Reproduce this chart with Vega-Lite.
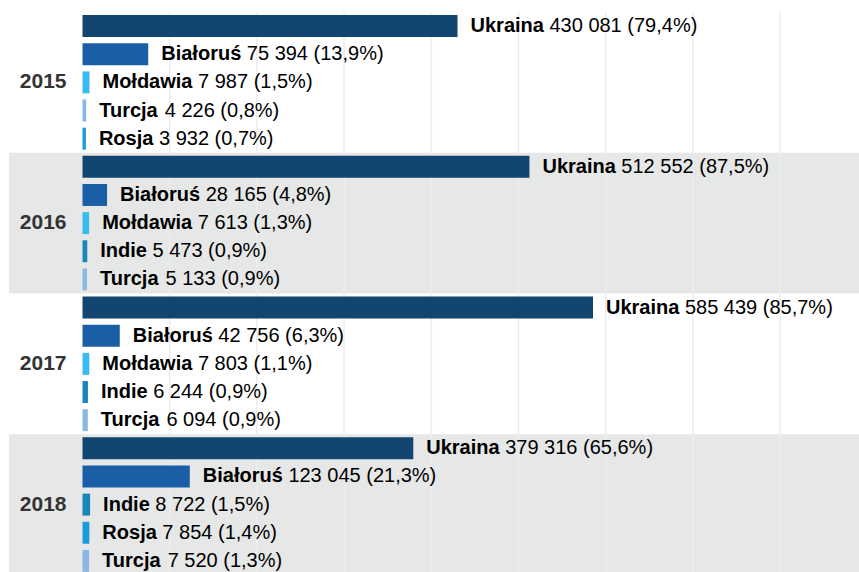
{
  "$schema": "https://vega.github.io/schema/vega-lite/v6.json",
  "width": 850,
  "height": 560,
  "autosize": {"type": "none"},
  "padding": {"left": 9, "top": 12, "right": 0, "bottom": 0},
  "background": "white",
  "config": {
    "view": {"stroke": null},
    "font": "Liberation Sans",
    "axisX": {"grid": false, "labels": false, "ticks": false, "domain": false, "title": null}
  },
  "datasets": {
    "migrants": [
      {"year": "2015", "rank": 1, "country": "Ukraina", "value": 430081, "label": "430 081 (79,4%)"},
      {"year": "2015", "rank": 2, "country": "Białoruś", "value": 75394, "label": "75 394 (13,9%)"},
      {"year": "2015", "rank": 3, "country": "Mołdawia", "value": 7987, "label": "7 987 (1,5%)"},
      {"year": "2015", "rank": 4, "country": "Turcja", "value": 4226, "label": "4 226 (0,8%)"},
      {"year": "2015", "rank": 5, "country": "Rosja", "value": 3932, "label": "3 932 (0,7%)"},
      {"year": "2016", "rank": 1, "country": "Ukraina", "value": 512552, "label": "512 552 (87,5%)"},
      {"year": "2016", "rank": 2, "country": "Białoruś", "value": 28165, "label": "28 165 (4,8%)"},
      {"year": "2016", "rank": 3, "country": "Mołdawia", "value": 7613, "label": "7 613 (1,3%)"},
      {"year": "2016", "rank": 4, "country": "Indie", "value": 5473, "label": "5 473 (0,9%)"},
      {"year": "2016", "rank": 5, "country": "Turcja", "value": 5133, "label": "5 133 (0,9%)"},
      {"year": "2017", "rank": 1, "country": "Ukraina", "value": 585439, "label": "585 439 (85,7%)"},
      {"year": "2017", "rank": 2, "country": "Białoruś", "value": 42756, "label": "42 756 (6,3%)"},
      {"year": "2017", "rank": 3, "country": "Mołdawia", "value": 7803, "label": "7 803 (1,1%)"},
      {"year": "2017", "rank": 4, "country": "Indie", "value": 6244, "label": "6 244 (0,9%)"},
      {"year": "2017", "rank": 5, "country": "Turcja", "value": 6094, "label": "6 094 (0,9%)"},
      {"year": "2018", "rank": 1, "country": "Ukraina", "value": 379316, "label": "379 316 (65,6%)"},
      {"year": "2018", "rank": 2, "country": "Białoruś", "value": 123045, "label": "123 045 (21,3%)"},
      {"year": "2018", "rank": 3, "country": "Indie", "value": 8722, "label": "8 722 (1,5%)"},
      {"year": "2018", "rank": 4, "country": "Rosja", "value": 7854, "label": "7 854 (1,4%)"},
      {"year": "2018", "rank": 5, "country": "Turcja", "value": 7520, "label": "7 520 (1,3%)"}
    ],
    "gridlines": [
      {"tick": 100000}, {"tick": 200000}, {"tick": 300000}, {"tick": 400000},
      {"tick": 500000}, {"tick": 600000}, {"tick": 700000}, {"tick": 800000}
    ]
  },
  "layer": [
    {
      "data": {"name": "migrants"},
      "transform": [{"filter": "datum.rank == 1 && (datum.year == '2016' || datum.year == '2018')"}],
      "mark": {"type": "rect", "fill": "#e6e7e7"},
      "encoding": {
        "y": {
          "field": "year",
          "type": "nominal",
          "scale": {"domain": ["2015", "2016", "2017", "2018"], "range": [0, 563], "paddingInner": 0, "paddingOuter": 0},
          "axis": {
            "title": null,
            "domain": false,
            "ticks": false,
            "tickSize": 0,
            "grid": false,
            "labelFontSize": 21,
            "labelFontWeight": "bold",
            "labelColor": "#333333",
            "labelAlign": "right",
            "labelBaseline": "middle",
            "labelPadding": -57,
            "zindex": 3
          }
        }
      }
    },
    {
      "data": {"name": "gridlines"},
      "mark": {"type": "rule", "color": "#ececec", "strokeWidth": 1.5},
      "encoding": {
        "x": {"field": "tick", "type": "quantitative", "scale": {"domain": [-84290, 890480], "nice": false, "zero": false}}
      }
    },
    {
      "data": {"name": "migrants"},
      "mark": {"type": "bar"},
      "encoding": {
        "y": {"field": "year", "type": "nominal"},
        "x": {"field": "value", "type": "quantitative"},
        "yOffset": {"field": "rank", "type": "ordinal", "scale": {"paddingInner": 0.22, "paddingOuter": 0.11}},
        "color": {
          "field": "country",
          "type": "nominal",
          "scale": {
            "domain": ["Ukraina", "Białoruś", "Mołdawia", "Turcja", "Rosja", "Indie"],
            "range": ["#124570", "#1a5fa5", "#38bbee", "#8ab8e4", "#1b9bda", "#1a86ba"]
          },
          "legend": null
        }
      }
    },
    {
      "data": {"name": "migrants"},
      "mark": {"type": "text", "align": "left", "baseline": "middle", "dx": 13, "fontSize": 20, "fontWeight": "bold", "fill": "#000000"},
      "encoding": {
        "y": {"field": "year", "type": "nominal"},
        "x": {"field": "value", "type": "quantitative"},
        "yOffset": {"field": "rank", "type": "ordinal"},
        "text": {"field": "country"}
      }
    },
    {
      "data": {"name": "migrants"},
      "transform": [
        {"calculate": "datum.country == 'Ukraina' ? 73.36 : datum.country == 'Białoruś' ? 80.02 : datum.country == 'Mołdawia' ? 90.02 : datum.country == 'Turcja' ? 60.02 : datum.country == 'Rosja' ? 54.46 : 46.68", "as": "nameWidth"},
        {"calculate": "datum.value + (18.56 + datum.nameWidth) * 974770 / 850", "as": "labelX"}
      ],
      "mark": {"type": "text", "align": "left", "baseline": "middle", "fontSize": 20, "fill": "#000000"},
      "encoding": {
        "y": {"field": "year", "type": "nominal"},
        "x": {"field": "labelX", "type": "quantitative"},
        "yOffset": {"field": "rank", "type": "ordinal"},
        "text": {"field": "label"}
      }
    }
  ]
}
